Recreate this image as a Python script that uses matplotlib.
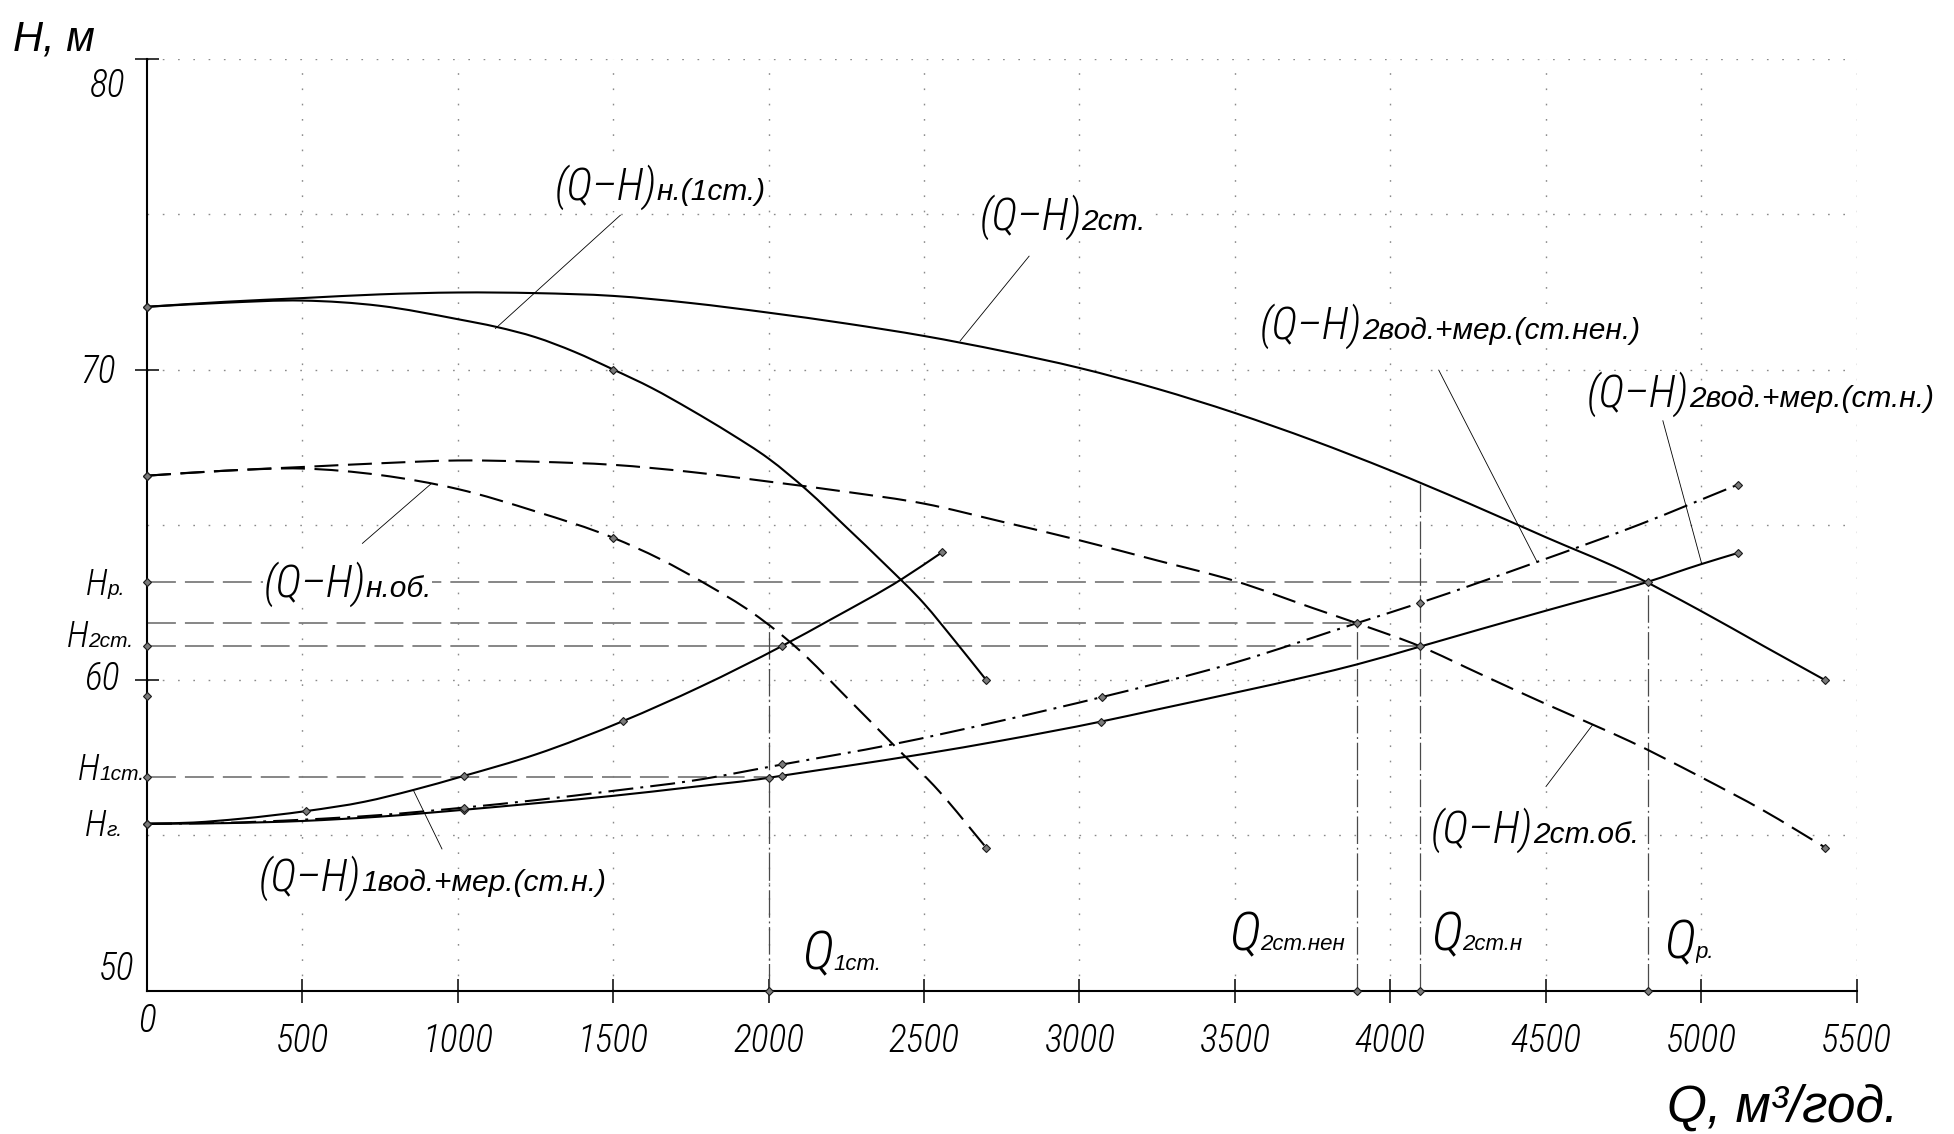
import numpy as np
import matplotlib
matplotlib.use("Agg")
import matplotlib.pyplot as plt
from matplotlib import font_manager as fm
from matplotlib.path import Path
from matplotlib.patches import PathPatch

# ---- pump curves (Q in m3/h, H in m) ----
Q_1st = [0, 250, 500, 750, 1000, 1125, 1250, 1375, 1500, 1625, 1750, 1875,
         2000, 2125, 2250, 2375, 2500, 2600, 2700]
H_1st = [72.02, 72.15, 72.22, 72.05, 71.62, 71.37, 71.04, 70.57, 70.00, 69.40,
         68.70, 67.95, 67.13, 66.10, 64.92, 63.72, 62.46, 61.25, 60.00]

Q_2st = [0, 250, 500, 750, 1000, 1250, 1500, 1750, 2000, 2250, 2500, 2750, 3000,
         3250, 3500, 3750, 4000, 4250, 4500, 4750, 5000, 5200, 5400]
H_2st = [72.02, 72.18, 72.30, 72.42, 72.48, 72.46, 72.37, 72.14, 71.83, 71.48,
         71.08, 70.60, 70.05, 69.38, 68.60, 67.72, 66.75, 65.70, 64.60, 63.52,
         62.22, 61.10, 59.99]

Q_1ob = [0, 250, 500, 750, 1000, 1250, 1500, 1650, 1800, 1950, 2100, 2250,
         2400, 2550, 2700]
H_1ob = [66.58, 66.74, 66.81, 66.60, 66.15, 65.43, 64.58, 63.90, 63.08, 62.15,
         60.95, 59.45, 57.93, 56.40, 54.60]

Q_2ob = [0, 250, 500, 750, 1000, 1250, 1500, 1750, 2000, 2250, 2500, 2750,
         3000, 3250, 3500, 3750, 3892, 4097, 4288, 4500, 4650, 4770, 5000,
         5200, 5400]
H_2ob = [66.58, 66.74, 66.86, 66.98, 67.07, 67.03, 66.93, 66.70, 66.39, 66.06,
         65.68, 65.10, 64.50, 63.85, 63.19, 62.32, 61.83, 61.08, 60.20, 59.23,
         58.57, 58.03, 56.87, 55.80, 54.60]

# ---- pipeline characteristics ----
Q_sys1 = [0, 150, 300, 513, 700, 854, 1019, 1250, 1530, 1780, 2044, 2200,
          2430, 2559]
H_sys1 = [55.37, 55.41, 55.53, 55.78, 56.08, 56.45, 56.91, 57.60, 58.67, 59.78,
          61.10, 61.95, 63.26, 64.12]

Q_sys2 = [0, 250, 500, 750, 1019, 1250, 1500, 1750, 2000, 2044, 2250, 2500,
          2750, 3069, 3250, 3500, 3750, 3892, 4097, 4288, 4500, 4828, 5000, 5118]
H_sys2 = [55.37, 55.39, 55.46, 55.60, 55.82, 56.03, 56.27, 56.55, 56.85, 56.92,
          57.23, 57.62, 58.05, 58.66, 59.05, 59.59, 60.15, 60.50, 61.08, 61.63,
          62.23, 63.16, 63.73, 64.09]

Q_sys2n = [0, 250, 500, 750, 1019, 1250, 1500, 1750, 2044, 2400, 2745, 3072,
           3500, 3892, 4097, 4466, 4800, 5118]
H_sys2n = [55.37, 55.40, 55.50, 55.65, 55.89, 56.13, 56.43, 56.75, 57.28, 57.93,
           58.68, 59.45, 60.56, 61.83, 62.49, 63.78, 65.00, 66.29]

# ---- working points ----
H_G = 55.37
Q_1ST, H_1ST = 2000, 56.86
Q_2ST_NEN, H_2ST_NEN = 3892, 61.83
Q_2ST_N, H_2ST_N = 4097, 61.08
Q_P, H_P = 4828, 63.16
H_AXIS_EXTRA = 59.5

# ---- axes ticks and labels ----
Q_TICKS = [500, 1000, 1500, 2000, 2500, 3000, 3500, 4000, 4500, 5000, 5500]
Q_TICK_LABELS = [str(v) for v in Q_TICKS]
H_GRID = [55, 60, 65, 70, 75, 80]
H_TICKS = [60, 70, 80]
H_TICK_LABELS = ["80", "70", "60", "50"]

CURVE_SUBS = ["н.(1ст.)", "2ст.", "2вод.+мер.(ст.нен.)", "2вод.+мер.(ст.н.)",
              "н.об.", "1вод.+мер.(ст.н.)", "2ст.об."]
Q_SUBS = ["1ст.", "2ст.нен", "2ст.н", "р."]
H_SUBS = ["р.", "2ст.", "1ст.", "г."]

# ---- layout ----
CURVE_LABEL_POS = [(1311, 75.45), (2678, 74.49), (3580, 70.98), (4632, 68.80),
                   (374, 62.68), (360, 53.20), (4130, 54.75)]
LEADERS = [((1523, 74.97), (1121, 71.32)), ((2838, 73.65), (2616, 70.92)),
           ((4156, 69.98), (4472, 63.81)), ((4877, 68.35), (5001, 63.78)),
           ((693, 64.40), (913, 66.31)), ((949, 54.56), (857, 56.45)),
           ((4501, 56.57), (4652, 58.57))]
Q_LABEL_POS = [(2108, 50.67), (3483, 51.31), (4132, 51.31), (4883, 51.04)]
H_LABEL_POS = [(-71, 62.74), (-45, 61.05), (-7, 56.78), (-78, 54.96)]
H_TICK_LABEL_POS = [(-71, 78.77), (-100, 69.55), (-88, 59.68), (-42, 50.35)]

_avail = {f.name for f in fm.fontManager.ttflist}


def _first(*names):
    for n in names:
        if n in _avail:
            return n
    return "DejaVu Sans"


NARROW = [_first("Roboto Condensed", "Liberation Sans Narrow", "PT Sans Narrow",
                 "Liberation Sans"), "DejaVu Sans"]
WIDE = [_first("Liberation Sans", "Arimo", "Roboto"), "DejaVu Sans"]

W, H = 1954, 1134
DPI = 100
fig = plt.figure(figsize=(W / DPI, H / DPI), dpi=DPI)
ax = fig.add_axes([147 / W, 143.5 / H, (1856.5 - 147) / W, (1075 - 143.5) / H])
ax.set_xlim(0, 5500)
ax.set_ylim(50, 80)
renderer = fig.canvas.get_renderer()

for s in ("top", "right"):
    ax.spines[s].set_visible(False)
for s in ("left", "bottom"):
    ax.spines[s].set_linewidth(1.5)
    ax.spines[s].set_color("black")

ax.set_xticks(Q_TICKS)
ax.set_xticklabels([])
ax.set_yticks(H_TICKS)
ax.set_yticklabels([])
ax.tick_params(direction="inout", length=17, width=1.1, color="black")

# dotted grid
GRID_LS = (0, (1.2, 9.8))
ax.hlines(H_GRID, 0, 5500, colors="#8a8a8a", linestyles=[GRID_LS], lw=1.0, zorder=1)
ax.vlines(Q_TICKS, 50, 80, colors="#8a8a8a", linestyles=[GRID_LS], lw=1.0, zorder=1)

# horizontal construction lines to the working points
ax.hlines([H_P, H_2ST_NEN, H_2ST_N, H_1ST], 0, [Q_P, Q_2ST_NEN, Q_2ST_N, Q_1ST],
          colors="#7d7d7d", linestyles=[(0, (16, 5))], lw=1.3, zorder=2)
# vertical construction lines
top_q1 = np.interp(Q_1ST, Q_1ob, H_1ob)
top_q2n = np.interp(Q_2ST_N, Q_2st, H_2st)
ax.vlines([Q_1ST, Q_2ST_NEN, Q_2ST_N, Q_P], 50,
          [top_q1, H_2ST_NEN, top_q2n, H_P],
          colors="#4a4a4a", linestyles=[(0, (22, 3, 1.5, 3))], lw=0.9, zorder=2)

MK = dict(marker="D", ms=4.2, mfc="#7a7a7a", mec="#1a1a1a", mew=0.8)
SOLID = dict(ls="-")
DASH = dict(ls=(0, (11.5, 4.6)))
DASHDOT = dict(ls=(0, (12, 3.4, 1.4, 3.4)))


def smooth_path(q, h):
    """Cubic Bezier path through the read points (tangents from neighbours)."""
    x = np.asarray(q, float)
    y = np.asarray(h, float)
    hx = np.diff(x)
    d = np.diff(y) / hx
    m = np.empty_like(x)
    m[0], m[-1] = d[0], d[-1]
    m[1:-1] = (d[:-1] * hx[1:] + d[1:] * hx[:-1]) / (hx[:-1] + hx[1:])
    verts = [(x[0], y[0])]
    codes = [Path.MOVETO]
    for i in range(len(x) - 1):
        dx = hx[i] / 3.0
        verts += [(x[i] + dx, y[i] + m[i] * dx),
                  (x[i + 1] - dx, y[i + 1] - m[i + 1] * dx),
                  (x[i + 1], y[i + 1])]
        codes += [Path.CURVE4] * 3
    return Path(verts, codes)


def curve(q, h, style, marks):
    ax.add_patch(PathPatch(smooth_path(q, h), fill=False, edgecolor="black",
                           lw=1.5, zorder=3, capstyle="butt", **style))
    idx = [q.index(v) for v in marks]
    ax.plot([q[i] for i in idx], [h[i] for i in idx], ls="none", zorder=4,
            clip_on=False, **MK)


curve(Q_1st, H_1st, SOLID, [1500, 2700])
curve(Q_2st, H_2st, SOLID, [0, 5400])
curve(Q_1ob, H_1ob, DASH, [0, 1500, 2700])
curve(Q_2ob, H_2ob, DASH, [5400])
curve(Q_sys1, H_sys1, SOLID, [0, 513, 1019, 1530, 2044, 2559])
curve(Q_sys2, H_sys2, SOLID, [1019, 2000, 2044, 3069, 4097, 4828, 5118])
curve(Q_sys2n, H_sys2n, DASHDOT, [1019, 2044, 3072, 3892, 4097, 5118])

# points on the axes
ax.plot([0] * 7, [H_G, H_1ST, H_AXIS_EXTRA, H_2ST_N, H_P, H_1ob[0], H_2st[0]],
        ls="none", zorder=4, clip_on=False, **MK)
ax.plot([Q_1ST, Q_2ST_NEN, Q_2ST_N, Q_P], [50] * 4, ls="none", zorder=4,
        clip_on=False, **MK)

# leader lines
for (x0, y0), (x1, y1) in LEADERS:
    ax.plot([x0, x1], [y0, y1], color="black", lw=0.6, zorder=3)

TXT = dict(style="italic", color="black")
BOX = dict(facecolor="white", edgecolor="none", pad=0.3)


def two_part(x, y, main, sub, msize, ssize, mfam=NARROW, sfam=WIDE,
             align="left", bg=True, gap=0.0):
    box = BOX if bg else None
    t2 = ax.annotate(sub, (x, y), xytext=(0, 0), textcoords="offset points",
                     fontsize=ssize, family=sfam, va="baseline", ha="left",
                     bbox=box, zorder=6, annotation_clip=False, **TXT)
    t1 = ax.annotate(main, (x, y), xytext=(0, 0), textcoords="offset points",
                     fontsize=msize, family=mfam, weight="light", va="baseline",
                     ha="left", bbox=box, zorder=6.1, annotation_clip=False, **TXT)
    w1 = t1.get_window_extent(renderer).width * 72 / DPI
    w2 = t2.get_window_extent(renderer).width * 72 / DPI
    x0 = -(w1 + gap + w2) if align == "right" else 0.0
    t1.xyann = (x0, 0)
    t2.xyann = (x0 + w1 + gap, 0)


for (x, y), sub in zip(CURVE_LABEL_POS, CURVE_SUBS):
    two_part(x, y, "(Q–H)", sub, 32, 21.5)
for (x, y), sub in zip(Q_LABEL_POS, Q_SUBS):
    two_part(x, y, "Q", sub, 39, 16)
for (x, y), sub in zip(H_LABEL_POS, H_SUBS):
    two_part(x, y, "H", sub, 26, 15, align="right", bg=False)

# tick labels
NUM = dict(fontsize=27, family=NARROW, weight="light", va="baseline", **TXT)
for (x, y), lab in zip(H_TICK_LABEL_POS, H_TICK_LABELS):
    ax.text(x, y, lab, ha="right", **NUM)
for q, lab in zip(Q_TICKS, Q_TICK_LABELS):
    ax.text(q, 48.03, lab, ha="center", **NUM)
ax.text(0, 48.65, "0", ha="center", **NUM)

# axis titles
ax.text(-431, 80.28, "H, м", fontsize=30, family=WIDE, ha="left", va="baseline", **TXT)
ax.text(4890, 45.78, "Q, м³/год.", fontsize=37, family=WIDE, ha="left",
        va="baseline", **TXT)

fig.savefig("out.png", dpi=DPI, facecolor="white")
